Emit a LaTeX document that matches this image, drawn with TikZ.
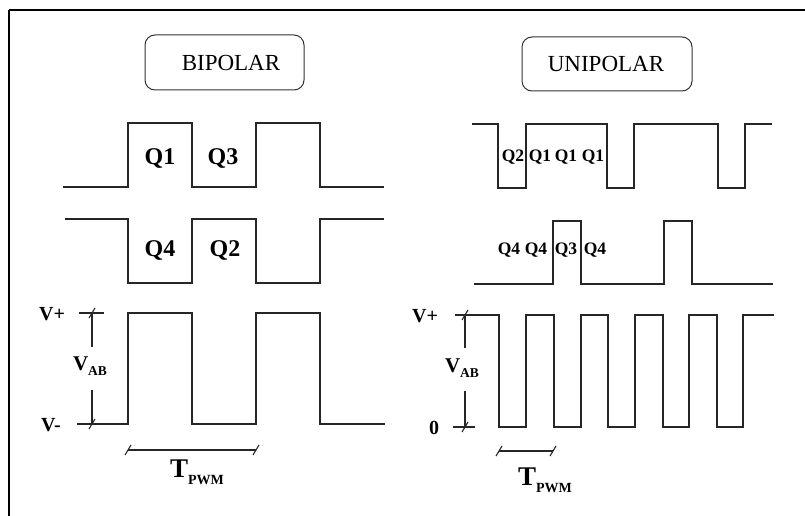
\documentclass[tikz,border=0pt]{standalone}
\usepackage{fontspec}
\setmainfont{Liberation Serif}
\begin{document}
\begin{tikzpicture}[x=1pt,y=-1pt,
  wave/.style={draw=black!85, line width=1.4pt, line join=miter},
  frameline/.style={draw=black, line width=2.6pt},
  titlebox/.style={draw=black!80, line width=1pt, rounded corners=10pt, inner sep=0pt},
  titletext/.style={inner sep=0pt, font=\fontsize{23}{23}\selectfont},
  bigq/.style={inner sep=0pt, font=\fontsize{24}{24}\selectfont\bfseries},
  smallq/.style={inner sep=0pt, font=\fontsize{17.5}{17.5}\selectfont\bfseries},
  lvl/.style={inner sep=0pt, font=\fontsize{20}{20}\selectfont\bfseries},
  dimline/.style={draw=black!85, line width=1.1pt},
  dimlabel/.style={inner sep=0pt},
]
\useasboundingbox (0,0) rectangle (805,516);
\fill[white] (0,0) rectangle (805,516);

% outer frame (top and left edges)
\draw[frameline] (9,10) -- (805,10);
\draw[frameline] (9,10) -- (9,516);

% titles
\node[titlebox, minimum width=159pt, minimum height=55pt] (bipbox) at (224.5,62.5) {};
\node[titletext] (biptext) at (231,63) {BIPOLAR};
\node[titlebox, minimum width=170pt, minimum height=54pt] (unibox) at (607,64) {};
\node[titletext] (unitext) at (606,64) {UNIPOLAR};

% ---------- bipolar switching ----------
\draw[wave] (63,187) -- (128,187) -- (128,123) -- (192,123) -- (192,187) -- (256,187)
  -- (256,123) -- (320,123) -- (320,187) -- (384,187);
\draw[wave] (65,219) -- (128,219) -- (128,283) -- (192,283) -- (192,219) -- (256,219)
  -- (256,283) -- (320,283) -- (320,219) -- (384,219);
\draw[wave] (77,424) -- (128,424) -- (128,313) -- (192,313) -- (192,424) -- (256,424)
  -- (256,313) -- (320,313) -- (320,424) -- (385,424);

\node[bigq] (bq1) at (160,158) {Q1};
\node[bigq] (bq3) at (223,158) {Q3};
\node[bigq] (bq4) at (160,250) {Q4};
\node[bigq] (bq2) at (225,250) {Q2};

% voltage levels
\coordinate (lvp) at (92,313);
\coordinate (lvm) at (92,424);
\draw[dimline] (79,313) -- (104,313);
\draw[dimline] (lvp) -- (92,347);
\draw[dimline] (92,390) -- (lvm);
\foreach \c in {lvp,lvm} \draw[dimline] (\c) ++(-3,5) -- ++(6,-10);
\node[lvl] (lvplus) at (52,314) {V+};
\node[lvl] (lvminus) at (51,425) {V-};
\node[dimlabel] (lvab) at (90,366)
  {\fontsize{21}{21}\selectfont\bfseries V\raisebox{-5pt}{\fontsize{13.5}{13.5}\selectfont AB}};

% PWM period
\coordinate (lta) at (128,450);
\coordinate (ltb) at (256,450);
\draw[dimline] (lta) -- (ltb);
\foreach \c in {lta,ltb} \draw[dimline] (\c) ++(-3,5) -- ++(6,-10);
\node[dimlabel] (ltpwm) at (197,472)
  {\fontsize{27}{27}\selectfont\bfseries T\raisebox{-7pt}{\fontsize{14}{14}\selectfont PWM}};

% ---------- unipolar switching ----------
\draw[wave] (472,124) -- (498,124) -- (498,188) -- (526,188) -- (526,124) -- (607,124)
  -- (607,188) -- (634,188) -- (634,124) -- (718,124) -- (718,188) -- (745,188)
  -- (745,124) -- (772,124);
\draw[wave] (474,284) -- (553,284) -- (553,221) -- (581,221) -- (581,284) -- (664,284)
  -- (664,221) -- (692,221) -- (692,284) -- (773,284);
\draw[wave] (455,315) -- (499,315) -- (499,427) -- (526,427) -- (526,315) -- (554,315)
  -- (554,427) -- (581,427) -- (581,315) -- (608,315) -- (608,427) -- (635,427)
  -- (635,315) -- (663,315) -- (663,427) -- (689,427) -- (689,315) -- (717,315)
  -- (717,427) -- (743,427) -- (743,315) -- (774,315);

\node[smallq] (uq2a) at (513,157) {Q2};
\node[smallq] (uq1a) at (540,157) {Q1};
\node[smallq] (uq1b) at (566,157) {Q1};
\node[smallq] (uq1c) at (593,157) {Q1};
\node[smallq] (uq4a) at (509,250) {Q4};
\node[smallq] (uq4b) at (536,250) {Q4};
\node[smallq] (uq3a) at (566,250) {Q3};
\node[smallq] (uq4c) at (595,250) {Q4};

% voltage levels
\coordinate (rvp) at (465,315);
\coordinate (rvz) at (465,427);
\draw[dimline] (453,427) -- (475,427);
\draw[dimline] (rvp) -- (465,348);
\draw[dimline] (465,391) -- (rvz);
\foreach \c in {rvp,rvz} \draw[dimline] (\c) ++(-3,5) -- ++(6,-10);
\node[lvl] (rvplus) at (425,316) {V+};
\node[lvl] (rvzero) at (434,428) {0};
\node[dimlabel] (rvab) at (462,368)
  {\fontsize{21}{21}\selectfont\bfseries V\raisebox{-5pt}{\fontsize{13.5}{13.5}\selectfont AB}};

% PWM period
\coordinate (rta) at (499,451);
\coordinate (rtb) at (553,451);
\draw[dimline] (rta) -- (rtb);
\foreach \c in {rta,rtb} \draw[dimline] (\c) ++(-3,5) -- ++(6,-10);
\node[dimlabel] (rtpwm) at (545,480)
  {\fontsize{27}{27}\selectfont\bfseries T\raisebox{-7pt}{\fontsize{14}{14}\selectfont PWM}};
\end{tikzpicture}
\end{document}
